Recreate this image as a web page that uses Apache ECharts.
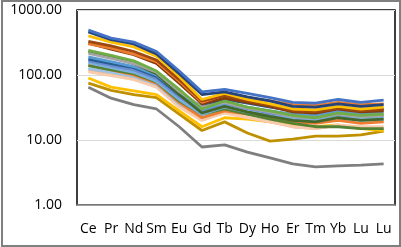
<!DOCTYPE html>
<html>
<head>
<meta charset="utf-8">
<script src="https://cdn.jsdelivr.net/npm/echarts@6/dist/echarts.min.js"></script>
<style>
  html, body { margin: 0; padding: 0; background: #fff; }
  #wrap { position: relative; width: 401px; height: 247px; }
  #chart { width: 401px; height: 247px; }
  #frame { position: absolute; left: 1px; top: 0; width: 396px; height: 243px;
           border: 2px solid #7f7f7f; pointer-events: none; }
</style>
</head>
<body>
<div id="wrap">
  <div id="chart"></div>
  <div id="frame"></div>
</div>
<script>
// element names along the x axis
var elements = ['Ce', 'Pr', 'Nd', 'Sm', 'Eu', 'Gd', 'Tb', 'Dy', 'Ho', 'Er', 'Tm', 'Yb', 'Lu', 'Lu'];

// normalised values, one array per sample
var s01 = [490, 370, 320, 230, 115, 55, 60, 52, 45, 38, 37, 42, 38, 41];
var s02 = [460, 350, 300, 210, 105, 50, 55, 46, 40, 33, 32, 36, 33, 35];
var s03 = [400, 320, 270, 195, 95, 42, 52, 42, 36, 30, 29, 33, 30, 32];
var s04 = [330, 280, 230, 170, 85, 40, 48, 40, 34, 28, 27, 31, 28, 30];
var s05 = [300, 260, 210, 160, 80, 38, 50, 44, 40, 35, 34, 38, 35, 36];
var s06 = [310, 250, 205, 150, 75, 36, 44, 38, 33, 27, 26, 30, 27, 28];
var s07 = [240, 200, 165, 115, 60, 30, 40, 32, 28, 24, 22, 26, 24, 25];
var s08 = [215, 180, 150, 110, 56, 32, 38, 31, 27, 23, 22, 25, 23, 24];
var s09 = [230, 190, 150, 105, 50, 26, 33, 27, 23, 20, 19, 22, 20, 21];
var s10 = [190, 160, 135, 100, 52, 30, 37, 32, 28, 25, 24, 28, 25, 27];
var s11 = [175, 150, 130, 95, 50, 33, 42, 37, 32, 28, 27, 31, 28, 30];
var s12 = [165, 140, 120, 88, 46, 28, 36, 30, 26, 23, 22, 25, 23, 24];
var s13 = [155, 130, 110, 80, 42, 25, 32, 27, 24, 21, 20, 23, 21, 22];
var s14 = [140, 120, 105, 78, 40, 25, 30, 25, 21, 18, 16, 16, 15, 15];
var s15 = [142, 120, 100, 75, 38, 22, 28, 25, 22, 19, 18, 20, 18, 19];
var s16 = [125, 110, 95, 72, 36, 24, 30, 26, 23, 20, 19, 22, 20, 20];
var s17 = [112, 98, 85, 65, 32, 20, 26, 22, 19, 16, 15, 17, 16, 16];
var s18 = [120, 100, 88, 66, 33, 21, 27, 22, 19, 16, 15, 17, 15, 15];
var s19 = [90, 65, 57, 50, 28, 16, 22, 21, 19, 17, 16, 17, 15, 14];
var s20 = [75, 58, 50, 45, 25, 14, 19, 12.8, 9.6, 10.3, 11.5, 11.5, 12, 13.7];
var s21 = [65, 44, 35, 30, 16, 7.8, 8.4, 6.5, 5.3, 4.3, 3.85, 4.0, 4.1, 4.3];

var samples = [s21, s20, s19, s18, s17, s16, s15, s14, s13, s12, s11, s10,
               s09, s08, s07, s06, s05, s04, s03, s02, s01];
var colors = ['#7f7f7f', '#bf9000', '#ffc000', '#f4b183', '#f8cbad', '#9dc3e6', '#ed7d31',
              '#548235', '#7cafdd', '#698ed0', '#255e91', '#5b9bd5',
              '#43682b', '#a5a5a5', '#70ad47', '#843c0c', '#ed7d31', '#9e480e',
              '#ffc000', '#264478', '#4472c4'];

var chart = echarts.init(document.getElementById('chart'));

var series = [];
for (var i = 0; i < samples.length; i++) {
    series.push({
        type: 'line',
        data: samples[i],
        symbol: 'none',
        lineStyle: { width: 2.8, color: colors[i] },
        itemStyle: { color: colors[i] }
    });
}

chart.setOption({
    animation: false,
    grid: {
        show: true,
        left: 77, right: 6, top: 10, bottom: 42,
        borderColor: '#000', borderWidth: 1.5
    },
    xAxis: {
        type: 'category',
        data: elements,
        boundaryGap: true,
        axisTick: { show: false },
        axisLine: { lineStyle: { color: '#8c8c8c', width: 1.5 } },
        axisLabel: { color: '#000', fontSize: 14, fontFamily: 'Open Sans', margin: 17, interval: 0 }
    },
    yAxis: {
        type: 'log',
        logBase: 10,
        min: 1,
        max: 1000,
        axisLine: { show: false },
        axisTick: { show: false },
        splitLine: { lineStyle: { color: '#d9d9d9', width: 1 } },
        axisLabel: {
            color: '#000', fontSize: 14, fontFamily: 'Open Sans', margin: 15,
            formatter: function (v) { return v.toFixed(2); }
        }
    },
    series: series
});
</script>
</body>
</html>
